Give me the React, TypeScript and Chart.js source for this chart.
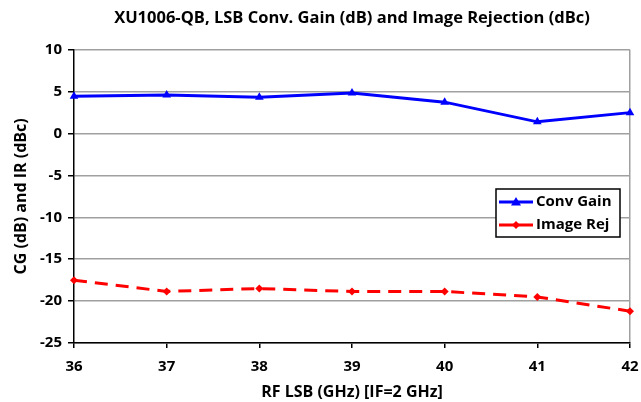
import React, { useEffect, useRef } from "react";
import { Chart, registerables } from "chart.js";

Chart.register(...registerables);

const categories = ["36", "37", "38", "39", "40", "41", "42"];
const convGain = [4.45, 4.6, 4.35, 4.85, 3.75, 1.4, 2.5];
const imageRej = [-17.5, -18.85, -18.5, -18.85, -18.85, -19.5, -21.2];
const yTicks = { min: -25, max: 10, step: 5 };

const FONT = "'Open Sans', sans-serif";

const legendPlugin = {
  id: "boxLegend",
  afterDraw(chart: any) {
    const ctx = chart.ctx;
    const x0 = 496, y0 = 189, w = 124, h = 48;
    ctx.save();
    ctx.fillStyle = "#ffffff";
    ctx.fillRect(x0, y0, w, h);
    ctx.strokeStyle = "#000000";
    ctx.lineWidth = 1.5;
    ctx.strokeRect(x0, y0, w, h);
    const rows = [
      { ds: chart.data.datasets[0], y: y0 + 13 },
      { ds: chart.data.datasets[1], y: y0 + 36 },
    ];
    rows.forEach((r) => {
      ctx.strokeStyle = r.ds.borderColor;
      ctx.lineWidth = 3;
      ctx.setLineDash([]);
      ctx.beginPath();
      ctx.moveTo(x0 + 3, r.y);
      ctx.lineTo(x0 + 37, r.y);
      ctx.stroke();
      ctx.fillStyle = r.ds.borderColor;
      ctx.beginPath();
      if (r.ds.pointStyle === "triangle") {
        ctx.moveTo(x0 + 20, r.y - 5);
        ctx.lineTo(x0 + 25, r.y + 3.5);
        ctx.lineTo(x0 + 15, r.y + 3.5);
      } else {
        ctx.moveTo(x0 + 20, r.y - 4);
        ctx.lineTo(x0 + 24, r.y);
        ctx.lineTo(x0 + 20, r.y + 4);
        ctx.lineTo(x0 + 16, r.y);
      }
      ctx.closePath();
      ctx.fill();
      ctx.fillStyle = "#000000";
      ctx.font = `bold 15px ${FONT}`;
      ctx.textBaseline = "middle";
      ctx.textAlign = "left";
      ctx.fillText(r.ds.label, x0 + 40, r.y);
    });
    ctx.restore();
  },
};

export default function App() {
  const ref = useRef<HTMLCanvasElement | null>(null);
  useEffect(() => {
    document.body.style.margin = "0";
    const chart = new Chart(ref.current as HTMLCanvasElement, {
      type: "line",
      data: {
        labels: categories,
        datasets: [
          {
            label: "Conv Gain",
            data: convGain,
            borderColor: "#0000ff",
            backgroundColor: "#0000ff",
            borderWidth: 3,
            pointStyle: "triangle",
            pointRadius: 5,
            pointBorderWidth: 0,
            tension: 0,
          },
          {
            label: "Image Rej",
            data: imageRej,
            borderColor: "#ff0000",
            backgroundColor: "#ff0000",
            borderWidth: 3,
            borderDash: [13, 8],
            pointStyle: "rectRot",
            pointRadius: 4,
            pointBorderWidth: 0,
            tension: 0,
          },
        ],
      },
      options: {
        animation: false,
        responsive: false,
        layout: { padding: { left: 0, right: 11, top: 0, bottom: 0 } },
        plugins: {
          legend: { display: false },
          tooltip: { enabled: false },
          title: {
            display: true,
            fullSize: false,
            text: "XU1006-QB, LSB Conv. Gain (dB) and Image Rejection (dBc)",
            color: "#000",
            font: { family: FONT, size: 16.5, weight: "bold", lineHeight: 1.2 },
            padding: { top: 8, bottom: 22 },
          },
        },
        scales: {
          x: {
            offset: false,
            afterFit: (s: any) => {
              s.height = 402 - 343;
              s.paddingRight = 0;
              s.paddingLeft = 0;
            },
            grid: {
              color: (c: any) => (c.index === categories.length - 1 ? "#a0a0a0" : "rgba(0,0,0,0)"),
              tickColor: "#000",
              tickLength: 5,
              lineWidth: 1.5,
            },
            border: { color: "#000", width: 1.5 },
            ticks: {
              color: "#000",
              font: { family: FONT, size: 15, weight: "bold" },
              padding: 10,
              maxRotation: 0,
            },
            title: {
              display: true,
              text: "RF LSB (GHz) [IF=2 GHz]",
              color: "#000",
              font: { family: FONT, size: 16, weight: "bold", lineHeight: 1.2 },
              padding: { top: 0, bottom: 0 },
            },
          },
          y: {
            min: yTicks.min,
            max: yTicks.max,
            afterFit: (s: any) => {
              s.width = 74;
            },
            grid: { color: "#a0a0a0", tickColor: "#000", tickLength: 6, lineWidth: 1.5 },
            border: { color: "#000", width: 1.5 },
            ticks: {
              stepSize: yTicks.step,
              color: "#000",
              font: { family: FONT, size: 15, weight: "bold" },
              padding: 6,
            },
            title: {
              display: true,
              text: "CG (dB) and IR (dBc)",
              color: "#000",
              font: { family: FONT, size: 16, weight: "bold", lineHeight: 1.2 },
              padding: { top: 12, bottom: 0 },
            },
          },
        },
      },
      plugins: [legendPlugin],
    } as any);
    return () => chart.destroy();
  }, []);
  return <canvas ref={ref} width={641} height={402} style={{ display: "block" }} />;
}
